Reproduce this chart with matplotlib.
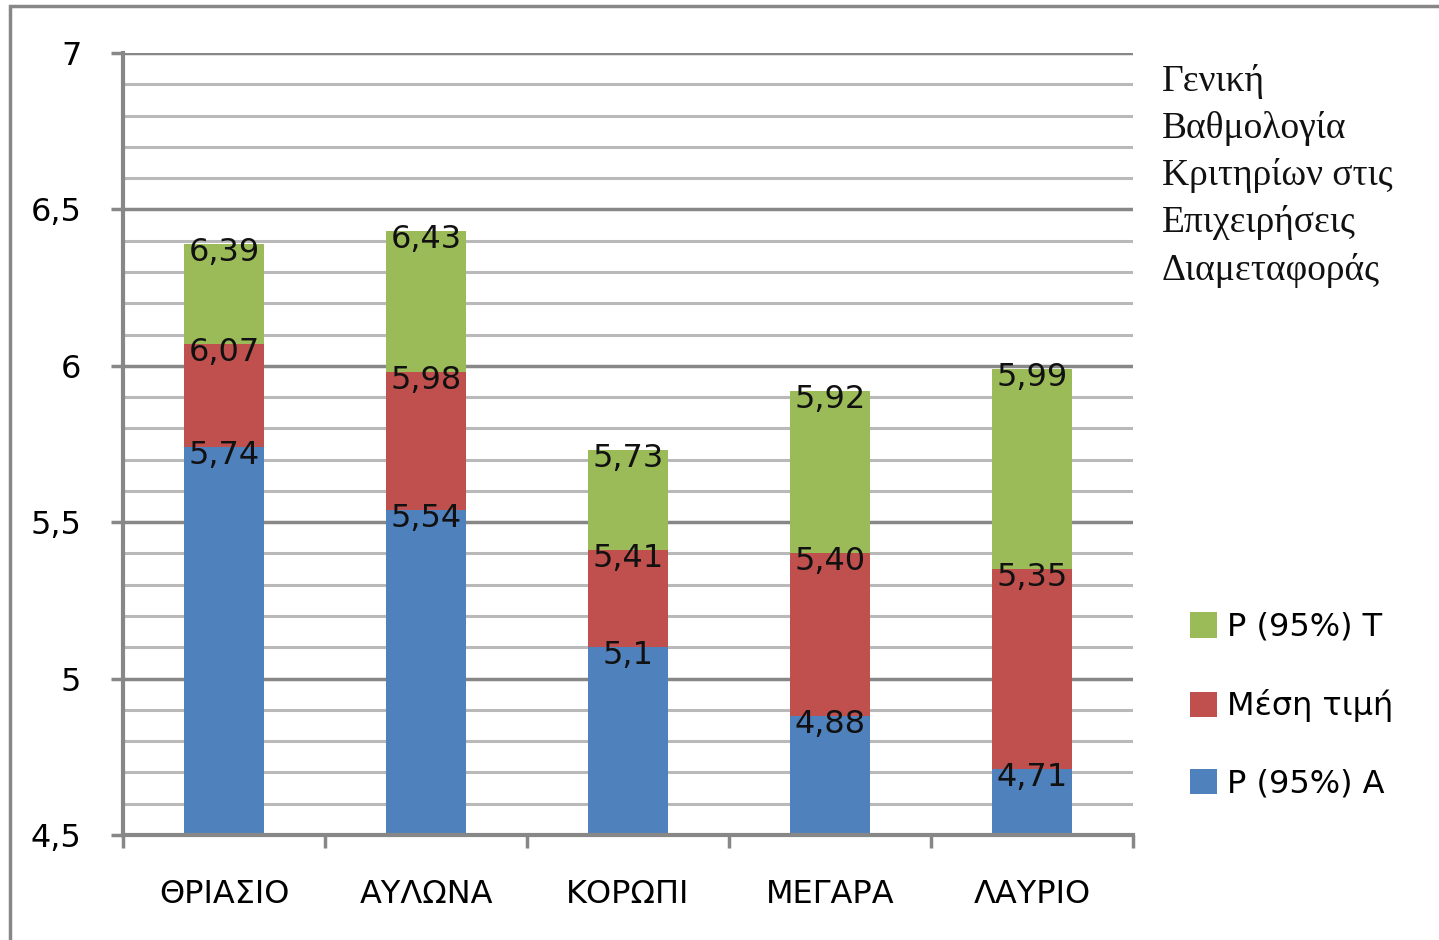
import matplotlib
matplotlib.use("Agg")
import matplotlib.pyplot as plt
from matplotlib.patches import Rectangle
from matplotlib.ticker import MultipleLocator
import numpy as np

# data
categories = ["ΘΡΙΑΣΙΟ", "ΑΥΛΩΝΑ", "ΚΟΡΩΠΙ", "ΜΕΓΑΡΑ", "ΛΑΥΡΙΟ"]
lower_95 = [5.74, 5.54, 5.10, 4.88, 4.71]    # P (95%) A
mean_val = [6.07, 5.98, 5.41, 5.40, 5.35]    # Μέση τιμή
upper_95 = [6.39, 6.43, 5.73, 5.92, 5.99]    # P (95%) T
lower_labels = ["5,74", "5,54", "5,1", "4,88", "4,71"]
mean_labels = ["6,07", "5,98", "5,41", "5,40", "5,35"]
upper_labels = ["6,39", "6,43", "5,73", "5,92", "5,99"]
series_names = ["P (95%) A", "Μέση τιμή", "P (95%) T"]
y_ticks = [4.5, 5, 5.5, 6, 6.5, 7]
y_tick_labels = ["4,5", "5", "5,5", "6", "6,5", "7"]
title_lines = ["Γενική", "Βαθμολογία", "Κριτηρίων στις", "Επιχειρήσεις", "Διαμεταφοράς"]

BLUE, RED, GREEN = "#4F81BD", "#C0504D", "#9BBB59"
AXIS_GREY, MINOR_GREY = "#878787", "#b9b9b9"
FS = 23

plt.rcParams["font.family"] = ["DejaVu Sans"]

fig = plt.figure(figsize=(14.39, 9.40), dpi=100)
ax = fig.add_axes([123 / 1439, 105 / 940, (1133 - 123) / 1439, (835 - 53) / 940])

# outer chart border (only top and left visible in the reference)
fig.add_artist(Rectangle((10 / 1439, -0.1), 1.2, (940 - 6) / 940 + 0.1,
                         transform=fig.transFigure, fill=False,
                         edgecolor=AXIS_GREY, linewidth=2.5))

base = 4.5
x = np.arange(len(categories))
lo = np.array(lower_95)
mid = np.array(mean_val)
hi = np.array(upper_95)
w = 0.4

b1 = ax.bar(x, lo - base, w, bottom=base, color=BLUE, zorder=3, label=series_names[0])
b2 = ax.bar(x, mid - lo, w, bottom=lo, color=RED, zorder=3, label=series_names[1])
b3 = ax.bar(x, hi - mid, w, bottom=mid, color=GREEN, zorder=3, label=series_names[2])

for tops, labels in ((lo, lower_labels), (mid, mean_labels), (hi, upper_labels)):
    for xi, top, lab in zip(x, tops, labels):
        ax.annotate(lab, (xi, top), xytext=(0, -6), textcoords="offset points",
                    ha="center", va="center", fontsize=FS, color="#111111", zorder=4)

ax.set_xlim(-0.5, len(categories) - 0.5)
ax.set_ylim(4.5, 7)

# gridlines: 0.1 minor (light), 0.5 major (dark)
ax.yaxis.set_major_locator(MultipleLocator(0.5))
ax.yaxis.set_minor_locator(MultipleLocator(0.1))
ax.set_yticks(y_ticks)
ax.set_yticklabels(y_tick_labels)
ax.grid(axis="y", which="major", color=AXIS_GREY, linewidth=2.5, zorder=1)
ax.grid(axis="y", which="minor", color=MINOR_GREY, linewidth=2.2, zorder=1)
ax.tick_params(axis="y", which="major", length=9, width=2.5, color=AXIS_GREY,
               pad=21, labelsize=FS)
ax.tick_params(axis="y", which="minor", length=0)

ax.set_xticks(x)
ax.set_xticklabels(categories)
ax.set_xticks(np.arange(len(categories) + 1) - 0.5, minor=True)
ax.tick_params(axis="x", which="major", length=0, pad=32, labelsize=FS)
ax.tick_params(axis="x", which="minor", length=9, width=2.5, color=AXIS_GREY)

for side in ("top", "right"):
    ax.spines[side].set_visible(False)
for side in ("left", "bottom"):
    ax.spines[side].set_color(AXIS_GREY)
    ax.spines[side].set_linewidth(3)
    ax.spines[side].set_zorder(5)

# title block on the right
fig.text(1162 / 1439, 1 - 64 / 940, "\n".join(title_lines), family="Liberation Serif",
         fontsize=27, va="top", ha="left", linespacing=1.45, color="#111111")

fig.legend([b3, b2, b1], [series_names[2], series_names[1], series_names[0]],
           loc="upper left", bbox_to_anchor=(1190 / 1439, 1 - 612 / 940),
           frameon=False, fontsize=FS, handlelength=0.85, handleheight=0.85,
           handletextpad=0.3, labelspacing=1.45, borderpad=0, borderaxespad=0)

fig.savefig("out.png", dpi=100)
